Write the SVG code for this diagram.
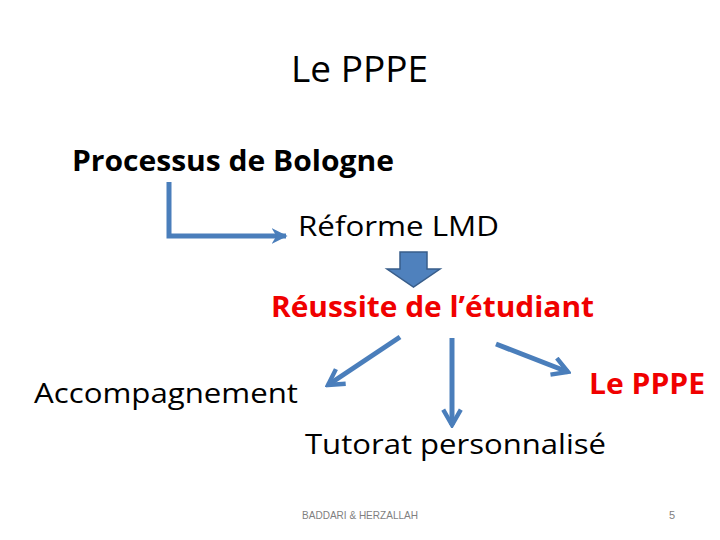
<svg xmlns="http://www.w3.org/2000/svg" width="720" height="540" viewBox="0 0 720 540">
<style>
.t{font-family:"Open Sans","Liberation Sans",sans-serif;fill:#000}
.b{font-weight:bold}
.r{fill:#f00000}
.c{fill:none;stroke:#4a7ebb;stroke-width:5}
.f{font-family:"Liberation Sans",sans-serif;font-size:11px;fill:#7f7f7f}
</style>
<defs>
<marker id="ah" viewBox="0 0 10 10" refX="8.5" refY="5" markerWidth="4.4" markerHeight="4.4" orient="auto" markerUnits="strokeWidth">
<polyline points="1.5,1 8.5,5 1.5,9" fill="none" stroke="#4a7ebb" stroke-width="2" stroke-linejoin="miter"/>
</marker>
<marker id="ah2" viewBox="0 0 10 10" refX="9" refY="5" markerWidth="3.2" markerHeight="3.2" orient="auto" markerUnits="strokeWidth">
<path d="M0,0 L10,5 L0,10 L3,5 Z" fill="#4a7ebb"/>
</marker>
</defs>
<rect width="720" height="540" fill="#fff"/>
<g id="title"><text class="t" x="291" y="82" font-size="36" textLength="137" lengthAdjust="spacingAndGlyphs">Le PPPE</text></g>
<g id="bologne"><text class="t b" x="72" y="171" font-size="28" textLength="322" lengthAdjust="spacingAndGlyphs">Processus de Bologne</text></g>
<g id="lmd"><text class="t" x="298" y="236" font-size="28" textLength="201" lengthAdjust="spacingAndGlyphs">Réforme LMD</text></g>
<g id="reussite"><text class="t b r" x="271" y="317" font-size="28" textLength="323" lengthAdjust="spacingAndGlyphs">Réussite de l’étudiant</text></g>
<g id="accompagnement"><text class="t" x="34" y="403" font-size="28" textLength="264" lengthAdjust="spacingAndGlyphs">Accompagnement</text></g>
<g id="pppe"><text class="t b r" x="589" y="394" font-size="28" textLength="116" lengthAdjust="spacingAndGlyphs">Le PPPE</text></g>
<g id="tutorat"><text class="t" x="305" y="454" font-size="28" textLength="301" lengthAdjust="spacingAndGlyphs">Tutorat personnalisé</text></g>
<g id="footer">
<text class="f" x="302" y="519" textLength="116" lengthAdjust="spacingAndGlyphs">BADDARI &amp; HERZALLAH</text>
<text class="f" x="669" y="519">5</text>
</g>
<g id="connectors">
<polyline class="c" points="169,182 169,236 286,236" stroke-width="4" marker-end="url(#ah2)"/>
<path d="M400,252 H427 V269 H440 L413.5,287 L387,269 H400 Z" fill="#4f81bd" stroke="#385d8a" stroke-width="1.5"/>
<line class="c" x1="400" y1="337" x2="328" y2="385" marker-end="url(#ah)"/>
<line class="c" x1="452" y1="338" x2="452" y2="425" marker-end="url(#ah)"/>
<line class="c" x1="496" y1="344" x2="568" y2="372" marker-end="url(#ah)"/>
</g>
</svg>
